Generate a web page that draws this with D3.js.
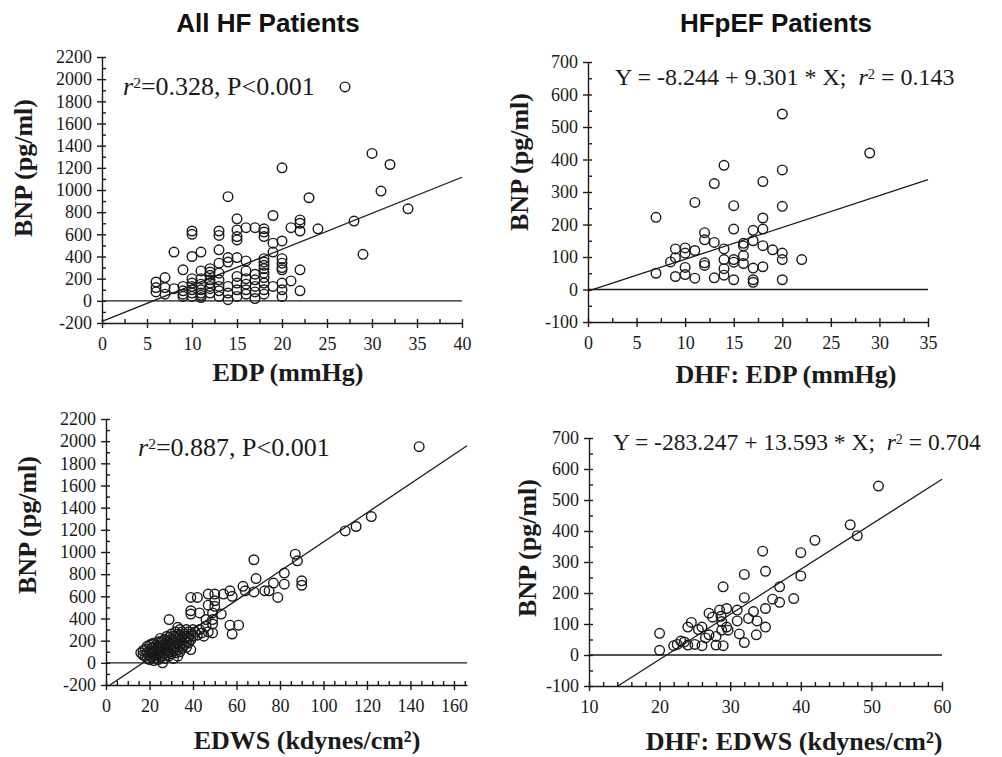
<!DOCTYPE html>
<html>
<head>
<meta charset="utf-8">
<script src="https://cdn.jsdelivr.net/npm/d3@7"></script>
<style>
  body { margin: 0; background: #fff; }
  svg { display: block; }
  .tick line, .domain { stroke: #1a1a1a; stroke-width: 1.4; }
</style>
</head>
<body>
<div id="chart"></div>
<script>
// ---- data ----
// All HF patients: EDP (mmHg) vs BNP (pg/ml)
const allHfEdp = [
  [27,1930],[30,1330],[32,1230],[20,1200],[31,990],[14,940],[23,930],[34,830],[19,770],[15,740],
  [28,720],[22,730],[22,700],[21,660],[22,630],[24,650],[10,630],[10,600],[13,630],[13,590],
  [15,640],[15,580],[16,660],[17,660],[18,650],[18,620],[18,580],[19,520],[20,540],[15,550],
  [8,440],[11,440],[13,460],[19,440],[29,420],[10,400],[14,390],[15,390],[16,360],[20,380],
  [13,340],[18,380],[18,350],[18,320],[18,290],[18,250],[18,210],[20,340],[20,300],[20,280],
  [9,280],[11,270],[12,290],[12,260],[22,280],[16,270],[17,240],[7,210],[10,200],[21,180],
  [6,170],[6,120],[6,80],[7,120],[7,60],[8,110],[9,130],[9,90],[9,40],[10,130],
  [10,100],[10,70],[10,40],[11,200],[11,150],[11,100],[11,70],[11,30],[12,230],[12,190],
  [12,160],[12,130],[12,70],[13,250],[13,190],[13,130],[13,40],[14,130],[14,70],[14,10],
  [15,220],[15,160],[15,100],[15,40],[16,200],[16,150],[16,100],[16,60],[17,190],[17,130],
  [17,80],[17,20],[18,160],[18,100],[18,60],[19,130],[20,160],[20,100],[20,40],[22,90],
  [14,350],[10,160],[12,110],[13,90],[9,60],[11,50]
];
const allHfEdpFit = [[0,-185],[40,1115]];

// HFpEF patients: EDP (mmHg) vs BNP (pg/ml)
const hfpefEdp = [
  [7,222],[7,50],[8.5,85],[9,125],[9,98],[9,40],[10,128],[10,112],[10,68],[10,46],
  [11,268],[11,120],[11,35],[12,175],[12,153],[12,82],[12,74],[13,326],[13,145],[13,36],
  [14,382],[14,125],[14,92],[14,64],[14,44],[15,258],[15,186],[15,92],[15,84],[15,30],
  [16,142],[16,134],[16,104],[16,80],[17,182],[17,150],[17,66],[17,30],[17,22],[18,332],
  [18,220],[18,186],[18,135],[18,70],[19,122],[20,540],[20,368],[20,256],[20,112],[20,92],
  [20,30],[22,92],[29,420]
];
const hfpefEdpFit = [[0,-5],[35,338]];

// All HF patients: EDWS (kdynes/cm2) vs BNP (pg/ml)
const allHfEdws = [
  [16,90],[17,70],[17,110],[18,60],[18,120],[19,40],[19,90],[19,150],[20,30],[20,70],
  [20,110],[20,160],[21,50],[21,90],[21,130],[21,170],[22,20],[22,60],[22,100],[22,140],
  [22,180],[23,40],[23,80],[23,120],[23,160],[24,30],[24,70],[24,110],[24,150],[24,190],
  [25,50],[25,100],[25,140],[25,180],[25,220],[26,0],[26,60],[26,110],[26,160],[26,200],
  [27,40],[27,90],[27,130],[27,170],[27,210],[28,70],[28,120],[28,160],[28,200],[28,240],
  [29,390],[29,60],[29,100],[29,150],[29,190],[29,230],[30,80],[30,130],[30,170],[30,210],
  [30,260],[31,40],[31,110],[31,150],[31,200],[31,240],[32,90],[32,140],[32,180],[32,230],
  [32,280],[33,60],[33,120],[33,170],[33,220],[33,260],[33,320],[34,100],[34,150],[34,200],
  [34,250],[34,300],[35,130],[35,180],[35,230],[35,280],[36,160],[36,210],[36,260],[37,140],
  [37,190],[37,240],[37,300],[38,180],[38,230],[38,280],[39,120],[39,210],[39,260],[40,240],
  [40,300],[41,280],[42,250],[43,300],[44,270],[45,240],[47,280],
  [39,440],[39,470],[39,590],[42,590],[43,450],[46,390],[46,330],[47,520],[47,620],[50,620],
  [50,560],[50,510],[49,450],[49,390],[49,350],[49,270],[53,440],[54,620],[57,650],[57,340],
  [58,600],[58,260],[61,340],[63,690],[64,650],[68,640],[68,930],[69,760],[73,650],[75,650],
  [77,720],[79,590],[82,810],[82,710],[87,980],[88,920],[90,740],[90,700],[110,1190],[115,1230],
  [122,1320],[144,1950]
];
const allHfEdwsFit = [[1.8,-200],[166,1958]];

// HFpEF patients: EDWS (kdynes/cm2) vs BNP (pg/ml)
const hfpefEdws = [
  [20,70],[20,15],[22,30],[22.5,34],[23,45],[23.5,42],[24,32],[24,90],[24.5,105],[25,34],
  [25.5,82],[26,90],[26,30],[26.5,55],[27,65],[27,135],[27.5,122],[28,32],[28,60],[28.5,145],
  [28.7,125],[28.8,108],[28.8,80],[29,220],[29,30],[29.5,90],[29.5,150],[29.7,80],[31,145],[31,110],
  [31.3,68],[32,40],[32,185],[32,260],[32.6,118],[33.3,140],[33.8,110],[33.7,65],[34.6,335],[35,270],
  [35,150],[35,90],[36,180],[37,220],[37,170],[39,182],[40,330],[40,255],[42,370],[47,420],
  [48,385],[51,545]
];
const hfpefEdwsFit = [[14.1,-100],[60,567]];

// tick labels
const edpTicks = [0, 5, 10, 15, 20, 25, 30, 35, 40];
const dhfEdpTicks = [0, 5, 10, 15, 20, 25, 30, 35];
const edwsTicks = [0, 20, 40, 60, 80, 100, 120, 140, 160];
const dhfEdwsTicks = [10, 20, 30, 40, 50, 60];
const bnpAllTicks = [-200, 0, 200, 400, 600, 800, 1000, 1200, 1400, 1600, 1800, 2000, 2200];
const bnpPefTicks = [-100, 0, 100, 200, 300, 400, 500, 600, 700];

const W = 1002, H = 757;
const ink = "#1a1a1a";
const serif = "'Liberation Serif', 'Times New Roman', serif";

const svg = d3.select("#chart").append("svg")
    .attr("width", W)
    .attr("height", H);

function styleTicks(a) {
    a.selectAll(".tick text")
        .style("font-family", serif)
        .style("font-size", "18px")
        .attr("fill", ink);
}

function panel(p) {
    const x = d3.scaleLinear().domain(p.xDomain).range(p.xRange);
    const y = d3.scaleLinear().domain(p.yDomain).range(p.yRange);
    const g = svg.append("g");

    // minor ticks (inside)
    g.append("g")
        .attr("transform", `translate(0,${p.yRange[0]})`)
        .call(d3.axisBottom(x).tickValues(d3.range(p.xDomain[0], p.xDomain[1] + 1e-6, p.xMinor)).tickSize(-4).tickFormat(""))
        .call(a => a.select(".domain").remove());
    g.append("g")
        .attr("transform", `translate(${p.xRange[0]},0)`)
        .call(d3.axisLeft(y).tickValues(d3.range(p.yDomain[0], p.yDomain[1] + 1e-6, p.yMinor)).tickSize(-4).tickFormat(""))
        .call(a => a.select(".domain").remove());

    // major ticks + labels
    g.append("g")
        .attr("transform", `translate(0,${p.yRange[0]})`)
        .call(d3.axisBottom(x).tickValues(p.xTicks).tickFormat(d => String(d))
            .tickSize(5).tickSizeOuter(0).tickPadding(9))
        .call(styleTicks);
    g.append("g")
        .attr("transform", `translate(${p.xRange[0]},0)`)
        .call(d3.axisLeft(y).tickValues(p.yTicks).tickFormat(d => String(d))
            .tickSize(5).tickSizeOuter(0).tickPadding(5))
        .call(styleTicks);

    // zero line
    g.append("line")
        .attr("x1", x(p.xDomain[0])).attr("x2", x(p.xDomain[1]))
        .attr("y1", y(0)).attr("y2", y(0))
        .attr("stroke", ink).attr("stroke-width", 1.4);

    // regression line
    g.append("path")
        .datum(p.fit)
        .attr("d", d3.line().x(d => x(d[0])).y(d => y(d[1])))
        .attr("fill", "none")
        .attr("stroke", ink)
        .attr("stroke-width", 1.3);

    g.selectAll("circle")
        .data(p.points)
        .join("circle")
        .attr("cx", d => x(d[0]))
        .attr("cy", d => y(d[1]))
        .attr("r", 4.8)
        .attr("fill", "none")
        .attr("stroke", ink)
        .attr("stroke-width", 1.4);

    // axis titles
    g.append("text")
        .attr("transform", `translate(${p.yLabelPos[0]},${p.yLabelPos[1]}) rotate(-90)`)
        .attr("text-anchor", "middle")
        .style("font", "bold 26px " + serif)
        .attr("fill", ink)
        .text("BNP (pg/ml)");
    g.append("text")
        .attr("x", p.xLabelPos[0]).attr("y", p.xLabelPos[1])
        .attr("text-anchor", "middle")
        .style("font", "bold 26px " + serif)
        .attr("fill", ink)
        .text(p.xLabel);

    // annotation
    const t = g.append("text")
        .attr("x", p.notePos[0]).attr("y", p.notePos[1])
        .style("font-family", serif)
        .style("font-size", p.noteSize + "px")
        .style("white-space", "pre")
        .attr("fill", ink);
    t.append("tspan").text(p.note[0]);
    t.append("tspan").style("font-style", "italic").text("r");
    t.append("tspan").attr("dy", "-0.45em").style("font-size", "0.6em").text("2");
    t.append("tspan").attr("dy", "0.27em").text(p.note[1]);
}

panel({
    xDomain: [0, 40], xRange: [102, 462], xTicks: edpTicks, xMinor: 2.5,
    yDomain: [-200, 2200], yRange: [323, 57], yTicks: bnpAllTicks, yMinor: 100,
    points: allHfEdp, fit: allHfEdpFit,
    xLabel: "EDP (mmHg)", xLabelPos: [288, 381], yLabelPos: [32, 168],
    note: ["", "=0.328, P<0.001"], notePos: [123, 95], noteSize: 26
});
panel({
    xDomain: [0, 35], xRange: [588, 928], xTicks: dhfEdpTicks, xMinor: 2.5,
    yDomain: [-100, 700], yRange: [322, 62], yTicks: bnpPefTicks, yMinor: 50,
    points: hfpefEdp, fit: hfpefEdpFit,
    xLabel: "DHF: EDP (mmHg)", xLabelPos: [786, 383], yLabelPos: [528, 162],
    note: ["Y = -8.244 + 9.301 * X;  ", " = 0.143"], notePos: [615, 85], noteSize: 24
});
panel({
    xDomain: [0, 166], xRange: [106, 467], xTicks: edwsTicks, xMinor: 5,
    yDomain: [-200, 2200], yRange: [685, 419], yTicks: bnpAllTicks, yMinor: 100,
    points: allHfEdws, fit: allHfEdwsFit,
    xLabel: "EDWS (kdynes/cm²)", xLabelPos: [307, 749], yLabelPos: [36, 525],
    note: ["", "=0.887, P<0.001"], notePos: [138, 456], noteSize: 26
});
panel({
    xDomain: [10, 60], xRange: [589, 942], xTicks: dhfEdwsTicks, xMinor: 2,
    yDomain: [-100, 700], yRange: [686, 438], yTicks: bnpPefTicks, yMinor: 50,
    points: hfpefEdws, fit: hfpefEdwsFit,
    xLabel: "DHF: EDWS (kdynes/cm²)", xLabelPos: [794, 750], yLabelPos: [536, 548],
    note: ["Y = -283.247 + 13.593 * X;  ", " = 0.704"], notePos: [613, 450], noteSize: 23.5
});

// column titles
svg.append("text")
    .attr("x", 268).attr("y", 32)
    .attr("text-anchor", "middle")
    .style("font", "bold 26px 'Liberation Sans', Arial, sans-serif")
    .attr("fill", "#111")
    .text("All HF Patients");
svg.append("text")
    .attr("x", 776).attr("y", 32)
    .attr("text-anchor", "middle")
    .style("font", "bold 26px 'Liberation Sans', Arial, sans-serif")
    .attr("fill", "#111")
    .text("HFpEF Patients");
</script>
</body>
</html>
